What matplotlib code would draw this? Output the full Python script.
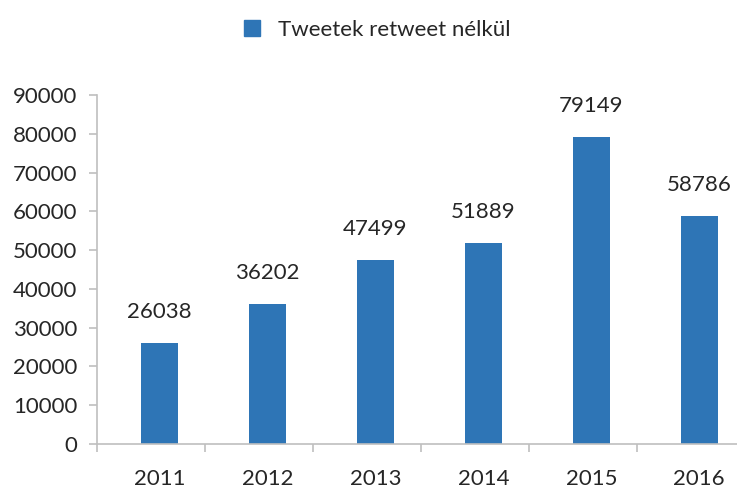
import numpy as np
import matplotlib
matplotlib.use('Agg')
import matplotlib.pyplot as plt
from matplotlib.patches import Patch

years = ['2011', '2012', '2013', '2014', '2015', '2016']
tweets = [26038, 36202, 47499, 51889, 79149, 58786]
series_name = 'Tweetek retweet nélkül'

BAR_COLOR = '#2E75B6'
AXIS_COLOR = '#BFBFBF'
TEXT_COLOR = '#262626'

plt.rcParams['font.family'] = ['Lato', 'DejaVu Sans']

fig = plt.figure(figsize=(7.37, 4.92), dpi=100)
ax = fig.add_axes([97 / 737, 48 / 492, 640 / 737, 349 / 492])

x = np.arange(len(years))
ax.bar(x, tweets, width=0.34, color=BAR_COLOR, zorder=2)

for xi, v in zip(x, tweets):
	ax.annotate(str(v), (xi, v), xytext=(0, 15), textcoords='offset points',
		ha='center', va='bottom', fontsize=16, color=TEXT_COLOR)

ax.set_ylim(0, 90000)
ax.set_yticks(np.arange(0, 90001, 10000))
ax.set_xlim(-0.58, 5.35)

# category labels centred, tick marks between categories
ax.set_xticks(x)
ax.set_xticklabels(years)
ax.set_xticks(np.arange(-0.58, 5.4, 1.0), minor=True)
ax.tick_params(axis='x', which='major', length=0, pad=18, labelsize=16, labelcolor=TEXT_COLOR)
ax.tick_params(axis='x', which='minor', length=6, width=1.2, color=AXIS_COLOR)
ax.tick_params(axis='y', length=6, width=1.2, color=AXIS_COLOR, pad=8,
	labelsize=16, labelcolor=TEXT_COLOR)

for side in ('top', 'right'):
	ax.spines[side].set_visible(False)
for side in ('left', 'bottom'):
	ax.spines[side].set_color(AXIS_COLOR)
	ax.spines[side].set_linewidth(1.2)

fig.legend(handles=[Patch(color=BAR_COLOR, label=series_name)],
	loc='upper center', bbox_to_anchor=(0.512, 1.0), frameon=False,
	fontsize=16, handlelength=0.7, handleheight=0.7, handletextpad=0.8,
	labelcolor=TEXT_COLOR)

fig.savefig('out.png', dpi=100)
